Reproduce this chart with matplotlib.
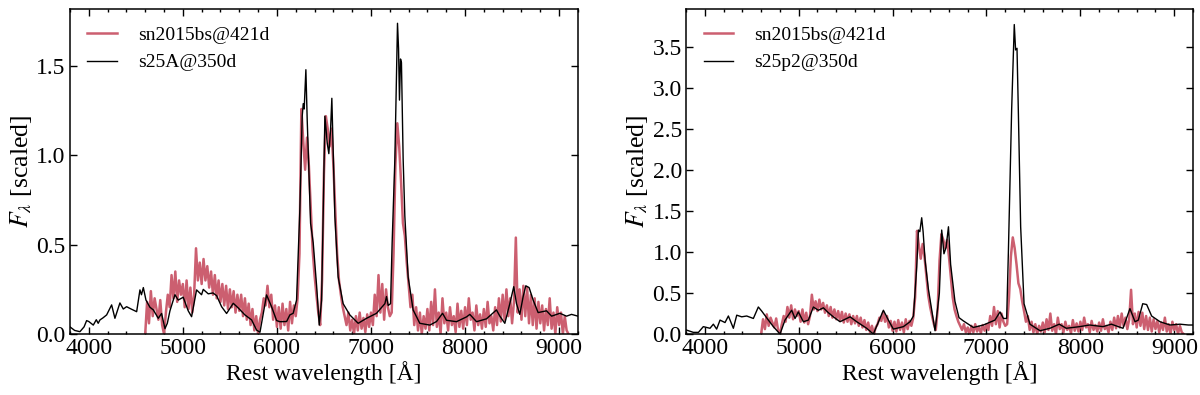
import matplotlib
matplotlib.use("Agg")
import matplotlib.pyplot as plt
from matplotlib.ticker import MultipleLocator, FormatStrFormatter
import numpy as np

plt.rcParams["font.family"] = ["Liberation Serif", "DejaVu Serif"]
plt.rcParams["mathtext.fontset"] = "stix"

# ── observed spectrum (same in both panels), 20 A steps from 4600 to 9100 ──────
obs_wave = np.arange(4600, 9101, 20)
obs_flux = [
    0.00, 0.18, 0.06, 0.24, 0.10, 0.20, 0.14, 0.08, 0.19, 0.05,   # 4600
    0.00, 0.12, 0.22, 0.15, 0.33, 0.20, 0.35, 0.18, 0.30, 0.22,   # 4800
    0.28, 0.15, 0.30, 0.14, 0.26, 0.12, 0.22, 0.48, 0.30, 0.40,   # 5000
    0.28, 0.42, 0.30, 0.38, 0.26, 0.35, 0.22, 0.33, 0.20, 0.30,   # 5200
    0.18, 0.28, 0.16, 0.27, 0.14, 0.25, 0.15, 0.24, 0.12, 0.22,   # 5400
    0.13, 0.22, 0.10, 0.20, 0.08, 0.17, 0.05, 0.14, 0.02, 0.10,   # 5600
    0.00, 0.08, 0.12, 0.20, 0.16, 0.27, 0.15, 0.22, 0.08, 0.16,   # 5800
    0.04, 0.15, 0.03, 0.17, 0.05, 0.14, 0.02, 0.18, 0.06, 0.16,   # 6000
    0.10, 0.20, 0.45, 1.26, 1.08, 0.92, 1.10, 0.94, 0.70, 0.47,   # 6200
    0.33, 0.22, 0.12, 0.05, 0.30, 0.90, 1.22, 1.15, 1.05, 1.15,   # 6400
    0.95, 0.70, 0.45, 0.30, 0.22, 0.15, 0.10, 0.05, 0.12, 0.02,   # 6600
    0.08, 0.00, 0.10, 0.02, 0.12, 0.03, 0.09, 0.01, 0.11, 0.04,   # 6800
    0.12, 0.05, 0.22, 0.10, 0.33, 0.12, 0.28, 0.08, 0.25, 0.15,   # 7000
    0.10, 0.12, 0.45, 0.95, 1.18, 1.05, 0.85, 0.62, 0.55, 0.40,   # 7200
    0.28, 0.15, 0.22, 0.05, 0.15, 0.02, 0.12, 0.00, 0.10, 0.03,   # 7400
    0.14, 0.02, 0.18, 0.05, 0.25, 0.04, 0.12, 0.00, 0.20, 0.06,   # 7600
    0.12, 0.02, 0.15, 0.05, 0.10, 0.01, 0.17, 0.04, 0.13, 0.03,   # 7800
    0.15, 0.05, 0.20, 0.08, 0.12, 0.02, 0.16, 0.05, 0.11, 0.03,   # 8000
    0.14, 0.04, 0.18, 0.06, 0.10, 0.02, 0.15, 0.05, 0.20, 0.07,   # 8200
    0.22, 0.08, 0.25, 0.10, 0.20, 0.06, 0.18, 0.54, 0.12, 0.25,   # 8400
    0.08, 0.27, 0.10, 0.26, 0.06, 0.22, 0.05, 0.20, 0.03, 0.18,   # 8600
    0.06, 0.16, 0.02, 0.14, 0.05, 0.20, 0.03, 0.12, 0.00, 0.15,   # 8800
    0.05, 0.12, 0.00, 0.10, 0.02, 0.00,                           # 9000
]

# ── model s25A ────────────────────────────────────────────────────────────────
s25a_wave = [
    3800, 3850, 3906, 3950, 3977, 4000, 4048, 4080, 4100, 4119, 4150, 4190,
    4243, 4278, 4310, 4331, 4367, 4402, 4450, 4509, 4530, 4544, 4560, 4580,
    4608, 4650, 4686, 4739, 4774, 4810, 4835, 4863, 4916, 4951, 5004, 5057,
    5093, 5146, 5199, 5217, 5270, 5320, 5359, 5412, 5465, 5536, 5589, 5660,
    5731, 5784, 5820, 5850, 5890, 5943, 5997, 6032, 6103, 6138, 6173, 6209,
    6244, 6269, 6280, 6290, 6301, 6308, 6322, 6333, 6343, 6358, 6386, 6422,
    6450, 6475, 6493, 6510, 6535, 6552, 6570, 6584, 6598, 6616, 6651, 6704,
    6775, 6864, 6953, 7059, 7148, 7165, 7183, 7208, 7225, 7254, 7272, 7282,
    7293, 7303, 7314, 7324, 7342, 7360, 7395, 7448, 7519, 7626, 7697, 7761,
    7803, 7909, 8016, 8051, 8122, 8228, 8334, 8370, 8423, 8476, 8518, 8547,
    8582, 8618, 8646, 8681, 8724, 8777, 8866, 8920, 9008, 9079, 9132, 9200,
]
s25a_flux = [
    0.04, 0.02, 0.013, 0.04, 0.075, 0.07, 0.05, 0.08, 0.06, 0.079, 0.09, 0.107,
    0.163, 0.088, 0.14, 0.174, 0.14, 0.153, 0.14, 0.125, 0.20, 0.247, 0.22, 0.26,
    0.19, 0.15, 0.135, 0.088, 0.115, 0.03, 0.06, 0.13, 0.22, 0.19, 0.206, 0.13,
    0.097, 0.247, 0.22, 0.25, 0.225, 0.23, 0.215, 0.153, 0.115, 0.172, 0.146, 0.107,
    0.079, 0.022, 0.01, 0.10, 0.219, 0.153, 0.075, 0.069, 0.07, 0.107, 0.116, 0.19,
    0.70, 1.22, 1.29, 1.26, 1.39, 1.48, 1.20, 1.03, 0.865, 0.62, 0.51, 0.27,
    0.05, 0.19, 0.70, 1.22, 1.07, 1.01, 1.14, 1.32, 1.03, 0.66, 0.32, 0.17,
    0.107, 0.06, 0.088, 0.116, 0.17, 0.21, 0.16, 0.17, 0.51, 0.98, 1.45, 1.74,
    1.60, 1.31, 1.54, 1.52, 0.98, 0.66, 0.32, 0.135, 0.06, 0.05, 0.07, 0.116,
    0.077, 0.069, 0.096, 0.11, 0.069, 0.085, 0.135, 0.10, 0.06, 0.17, 0.265, 0.17,
    0.11, 0.21, 0.27, 0.26, 0.19, 0.12, 0.13, 0.10, 0.116, 0.10, 0.11, 0.10,
]

# ── model s25p2 ───────────────────────────────────────────────────────────────
s25p2_wave = [
    3800, 3878, 3932, 3984, 4055, 4091, 4126, 4162, 4215, 4251, 4304, 4340,
    4393, 4446, 4517, 4570, 4606, 4677, 4730, 4801, 4854, 4925, 4961, 4996,
    5050, 5103, 5156, 5209, 5263, 5316, 5369, 5440, 5547, 5618, 5724, 5795,
    5902, 5955, 6008, 6115, 6186, 6222, 6257, 6275, 6290, 6310, 6325, 6346,
    6381, 6417, 6452, 6498, 6523, 6547, 6570, 6595, 6618, 6664, 6707, 6754,
    6860, 6967, 7090, 7144, 7180, 7215, 7233, 7268, 7296, 7310, 7325, 7339,
    7364, 7400, 7463, 7570, 7676, 7775, 7850, 7992, 8099, 8241, 8330, 8454,
    8528, 8582, 8617, 8664, 8706, 8759, 8848, 8955, 9061, 9150, 9200,
]
s25p2_flux = [
    0.05, 0.02, 0.02, 0.09, 0.07, 0.12, 0.06, 0.17, 0.14, 0.22, 0.07, 0.23,
    0.21, 0.22, 0.19, 0.33, 0.28, 0.17, 0.09, 0.00, 0.17, 0.29, 0.19, 0.27,
    0.15, 0.17, 0.33, 0.29, 0.32, 0.26, 0.21, 0.15, 0.21, 0.15, 0.07, 0.00,
    0.29, 0.17, 0.06, 0.09, 0.15, 0.22, 0.82, 1.27, 1.25, 1.42, 1.25, 0.90,
    0.55, 0.29, 0.04, 0.50, 1.27, 0.98, 1.06, 1.31, 0.85, 0.40, 0.20, 0.16,
    0.08, 0.11, 0.17, 0.27, 0.19, 0.19, 0.99, 2.74, 3.78, 3.47, 3.49, 2.74,
    1.31, 0.37, 0.12, 0.04, 0.07, 0.12, 0.07, 0.09, 0.11, 0.09, 0.12, 0.07,
    0.31, 0.15, 0.17, 0.37, 0.36, 0.22, 0.15, 0.11, 0.12, 0.11, 0.11,
]

RED = "#cc5f70"
FS = 17

fig = plt.figure(figsize=(12, 3.95), dpi=100)
ax1 = fig.add_axes([0.0583, 0.1544, 0.4233, 0.8228])
ax2 = fig.add_axes([0.5717, 0.1544, 0.4225, 0.8228])

panels = [
    (ax1, s25a_wave, s25a_flux, "s25A@350d", 1.82),
    (ax2, s25p2_wave, s25p2_flux, "s25p2@350d", 3.97),
]

for ax, mw, mf, mlabel, ytop in panels:
    ax.plot(obs_wave, obs_flux, color=RED, lw=1.8, label="sn2015bs@421d", zorder=2)
    ax.plot(mw, mf, color="black", lw=1.0, label=mlabel, zorder=3)
    ax.set_xlim(3800, 9200)
    ax.set_ylim(0, ytop)
    ax.xaxis.set_major_locator(MultipleLocator(1000))
    ax.xaxis.set_minor_locator(MultipleLocator(200))
    ax.yaxis.set_major_locator(MultipleLocator(0.5))
    ax.yaxis.set_major_formatter(FormatStrFormatter("%.1f"))
    ax.tick_params(which="both", direction="in", top=True, right=True,
                   labelsize=FS, width=1.0)
    ax.tick_params(which="major", length=5, pad=3)
    ax.tick_params(which="minor", length=2.5)
    for sp in ax.spines.values():
        sp.set_linewidth(1.1)
    ax.set_xlabel("Rest wavelength [Å]", fontsize=FS, labelpad=1)
    ax.set_ylabel(r"$F_\lambda$ [scaled]", fontsize=18.5, labelpad=2)
    ax.legend(loc="upper left", frameon=False, fontsize=14,
              handlelength=1.5, handletextpad=1.1, labelspacing=0.5,
              borderaxespad=0.5)

fig.savefig("out.png", dpi=100)
